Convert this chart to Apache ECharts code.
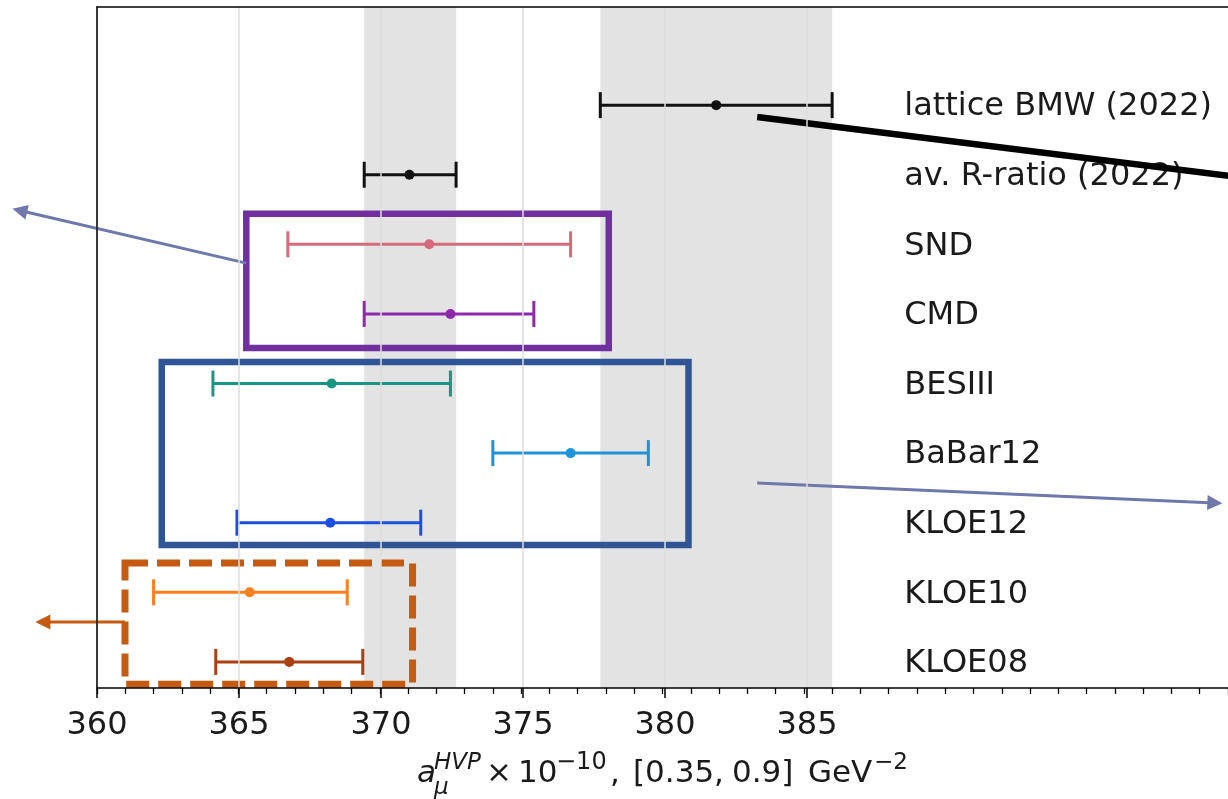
<!DOCTYPE html>
<html>
<head>
<meta charset="utf-8">
<script src="https://cdn.jsdelivr.net/npm/echarts@6/dist/echarts.min.js"></script>
<style>
  html, body { margin: 0; padding: 0; background: #fff; }
  #chart { width: 1228px; height: 799px; }
</style>
</head>
<body>
<div id="chart"></div>
<script>
// rows, bottom (0) to top
const labels = ['KLOE08', 'KLOE10', 'KLOE12', 'BaBar12', 'BESIII', 'CMD', 'SND', 'av. R-ratio (2022)', 'lattice BMW (2022)'];
const centers = [366.8, 365.4, 368.25, 376.75, 368.3, 372.5, 371.75, 371.05, 381.9];
const lowers = [364.2, 362.0, 364.95, 374.0, 364.1, 369.45, 366.75, 369.45, 377.8];
const uppers = [369.4, 368.85, 371.45, 379.5, 372.5, 375.45, 376.75, 372.7, 386.0];
const colors = ['#a9400f', '#ff7f1e', '#1b4fe0', '#1f93d8', '#1a9784', '#8e2aaa', '#d46a7c', '#111111', '#111111'];

// shaded bands (x ranges)
const bands = [[369.45, 372.7], [377.8, 386.0]];

// annotation boxes [x0, x1, y0, y1] in axis units
const boxes = [[365.28, 378.1, 4.51, 6.44], [362.29, 380.92, 1.68, 4.31]];
const dashedBoxes = [[360.99, 371.16, -0.32, 1.42]];
// arrows [xFrom, yFrom, xTo, yTo]
const arrows = [[365.28, 5.73, 357.01, 6.51], [383.35, 2.57, 399.8, 2.28], [360.99, 0.575, 357.82, 0.575]];
const thickLines = [[383.35, 7.83, 400.5, 6.96]];

const xMin = 360;
const xMax = 400;
const xLabelMax = 385;
const yMin = -0.375;
const yMax = 9.41;
const labelX = 388.55;

const boxColors = ['#7030a0', '#2f5597'];
const arrowColors = ['#6f78aa', '#6f78aa', '#c55a11'];
const FONT = 'DejaVu Sans';
const INK = '#1a1a1a';

const chart = echarts.init(document.getElementById('chart'));

function errorBar(params, api) {
  const i = params.dataIndex;
  const y = api.value(0);
  const c = api.coord([api.value(1), y]);
  const lo = api.coord([api.value(2), y]);
  const hi = api.coord([api.value(3), y]);
  const style = { stroke: colors[i], lineWidth: 3 };
  return {
    type: 'group',
    children: [
      { type: 'line', shape: { x1: lo[0], y1: lo[1], x2: hi[0], y2: hi[1] }, style },
      { type: 'line', shape: { x1: lo[0], y1: lo[1] - 13, x2: lo[0], y2: lo[1] + 13 }, style },
      { type: 'line', shape: { x1: hi[0], y1: hi[1] - 13, x2: hi[0], y2: hi[1] + 13 }, style },
      { type: 'circle', shape: { cx: c[0], cy: c[1], r: 5 }, style: { fill: colors[i] } },
    ],
  };
}

function arrowShape(a, b, color, width) {
  const dx = b[0] - a[0];
  const dy = b[1] - a[1];
  const len = Math.sqrt(dx * dx + dy * dy);
  const ux = dx / len;
  const uy = dy / len;
  const head = 15;
  const half = 7.5;
  const bx = b[0] - ux * head;
  const by = b[1] - uy * head;
  return [
    { type: 'line', shape: { x1: a[0], y1: a[1], x2: bx + ux * 2, y2: by + uy * 2 }, style: { stroke: color, lineWidth: width } },
    {
      type: 'polygon',
      shape: { points: [[b[0], b[1]], [bx - uy * half, by + ux * half], [bx + uy * half, by - ux * half]] },
      style: { fill: color },
    },
  ];
}

// axis title pieces (mathtext-like)
function titleText(text, left, baseline, size, italic) {
  return {
    type: 'text',
    left,
    top: baseline - 0.846 * size,
    style: { text, font: `${italic ? 'italic ' : ''}${size}px "${FONT}"`, fill: INK },
  };
}

const option = {
  animation: false,
  backgroundColor: '#fff',
  grid: [
    { left: 97, right: -5, top: 7, bottom: 111 },
    { left: 97, width: 710, top: 7, bottom: 111 },
  ],
  xAxis: [
    {
      gridIndex: 0, type: 'value', min: xMin, max: xMax, interval: 1, z: 10,
      axisLine: { show: true, onZero: false, lineStyle: { color: '#000', width: 1.5 } },
      axisTick: { show: true, length: 6, lineStyle: { color: '#000', width: 1.3 } },
      axisLabel: { show: false },
      splitLine: { show: false },
    },
    {
      gridIndex: 1, type: 'value', min: xMin, max: xLabelMax, interval: 5, z: 10,
      axisLine: { show: false, onZero: false },
      axisTick: { show: true, length: 10, lineStyle: { color: '#000', width: 1.5 } },
      axisLabel: { show: true, fontFamily: FONT, fontSize: 32, color: INK, margin: 22 },
      splitLine: { show: true, lineStyle: { color: '#dddddd', width: 1.5 } },
    },
    {
      gridIndex: 0, type: 'value', position: 'top', min: xMin, max: xMax, z: 10,
      axisLine: { show: true, onZero: false, lineStyle: { color: '#000', width: 1.5 } },
      axisTick: { show: false },
      axisLabel: { show: false },
      splitLine: { show: false },
    },
  ],
  yAxis: [
    {
      gridIndex: 0, type: 'value', min: yMin, max: yMax, z: 10,
      axisLine: { show: true, onZero: false, lineStyle: { color: '#000', width: 1.5 } },
      axisTick: { show: false },
      axisLabel: { show: false },
      splitLine: { show: false },
    },
    { gridIndex: 1, type: 'value', min: yMin, max: yMax, show: false },
  ],
  graphic: [
    titleText('a', 417, 785, 31, true),
    titleText('HVP', 434, 771, 23, true),
    titleText('μ', 434, 796, 23, true),
    titleText('×', 486, 785, 31, false),
    titleText('10', 518, 785, 31, false),
    titleText('−10', 556, 771, 24, false),
    titleText(',', 610, 785, 31, false),
    titleText('[0.35,', 633, 785, 31, false),
    titleText('0.9]', 732, 785, 31, false),
    titleText('GeV', 808, 785, 31, false),
    titleText('−2', 874, 771, 23, false),
  ],
  series: [
    {
      type: 'custom',
      name: 'bands',
      xAxisIndex: 0,
      yAxisIndex: 0,
      z: 2,
      data: bands,
      renderItem(params, api) {
        const p0 = api.coord([api.value(0), yMax]);
        const p1 = api.coord([api.value(1), yMin]);
        return {
          type: 'rect',
          shape: { x: p0[0], y: p0[1], width: p1[0] - p0[0], height: p1[1] - p0[1] },
          style: { fill: 'rgba(128,128,128,0.22)' },
        };
      },
    },
    {
      type: 'custom',
      name: 'errors',
      xAxisIndex: 0,
      yAxisIndex: 0,
      z: 3,
      data: labels.map((l, i) => [i, centers[i], lowers[i], uppers[i]]),
      renderItem: errorBar,
    },
    {
      type: 'custom',
      name: 'labels',
      xAxisIndex: 0,
      yAxisIndex: 0,
      z: 3,
      data: labels.map((l, i) => [labelX, i]),
      renderItem(params, api) {
        const p = api.coord([api.value(0), api.value(1)]);
        return {
          type: 'text',
          x: p[0],
          y: p[1] + 2,
          style: {
            text: labels[params.dataIndex],
            font: `32px "${FONT}"`,
            fill: INK,
            align: 'left',
            verticalAlign: 'middle',
          },
        };
      },
    },
    {
      type: 'custom',
      name: 'boxes',
      xAxisIndex: 0,
      yAxisIndex: 0,
      z: 5,
      data: boxes,
      renderItem(params, api) {
        const p0 = api.coord([api.value(0), api.value(3)]);
        const p1 = api.coord([api.value(1), api.value(2)]);
        return {
          type: 'rect',
          shape: { x: p0[0], y: p0[1], width: p1[0] - p0[0], height: p1[1] - p0[1] },
          style: { fill: 'none', stroke: boxColors[params.dataIndex], lineWidth: 6.5 },
        };
      },
    },
    {
      type: 'custom',
      name: 'dashedBoxes',
      xAxisIndex: 0,
      yAxisIndex: 0,
      z: 5,
      data: dashedBoxes,
      renderItem(params, api) {
        const p0 = api.coord([api.value(0), api.value(3)]);
        const p1 = api.coord([api.value(1), api.value(2)]);
        return {
          type: 'rect',
          shape: { x: p0[0], y: p0[1], width: p1[0] - p0[0], height: p1[1] - p0[1] },
          style: { fill: 'none', stroke: '#c55a11', lineWidth: 7, lineDash: [23, 9] },
        };
      },
    },
    {
      type: 'custom',
      name: 'arrows',
      xAxisIndex: 0,
      yAxisIndex: 0,
      z: 6,
      data: arrows,
      renderItem(params, api) {
        const a = api.coord([api.value(0), api.value(1)]);
        const b = api.coord([api.value(2), api.value(3)]);
        return { type: 'group', children: arrowShape(a, b, arrowColors[params.dataIndex], 3) };
      },
    },
    {
      type: 'custom',
      name: 'thickLines',
      xAxisIndex: 0,
      yAxisIndex: 0,
      z: 6,
      data: thickLines,
      renderItem(params, api) {
        const a = api.coord([api.value(0), api.value(1)]);
        const b = api.coord([api.value(2), api.value(3)]);
        return {
          type: 'line',
          shape: { x1: a[0], y1: a[1], x2: b[0], y2: b[1] },
          style: { stroke: '#000', lineWidth: 6.5 },
        };
      },
    },
  ],
};

chart.setOption(option);
</script>
</body>
</html>
